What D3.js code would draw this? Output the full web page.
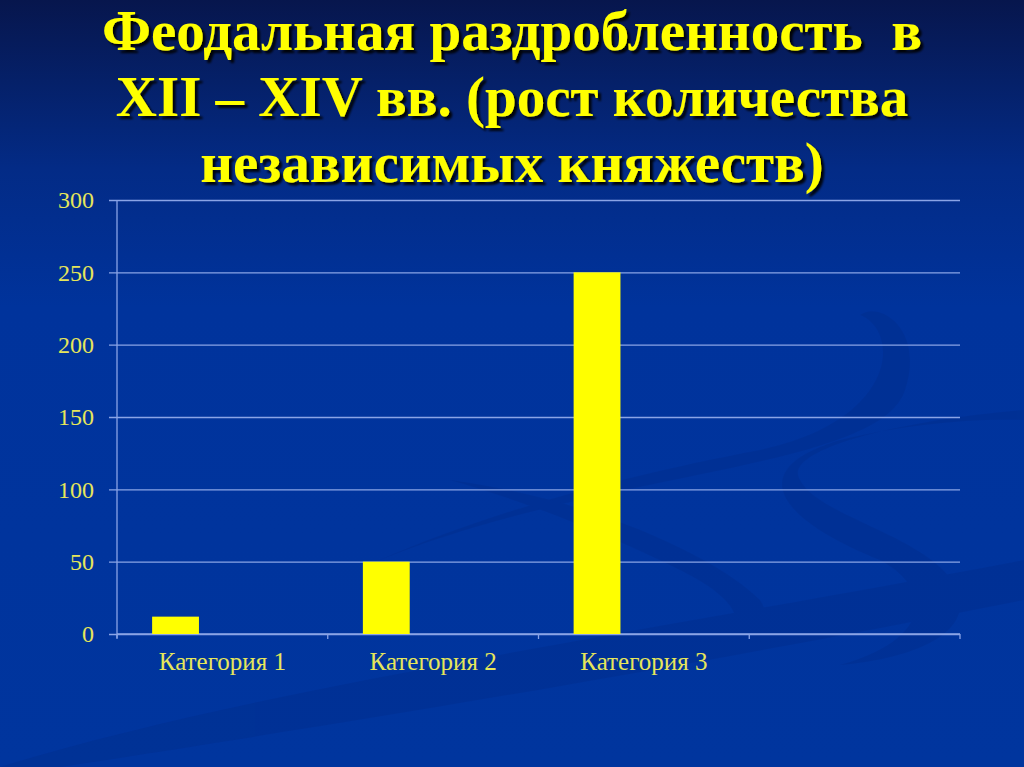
<!DOCTYPE html>
<html>
<head>
<meta charset="utf-8">
<script src="https://cdn.jsdelivr.net/npm/d3@7"></script>
<style>
  html, body { margin: 0; padding: 0; background: #00339c; }
  svg { display: block; }
</style>
</head>
<body>
<div id="chart"></div>
<script>
// заголовок слайда (три строки)
const titleLines = [
    "Феодальная раздробленность  в",
    "XII – XIV вв. (рост количества",
    "независимых княжеств)"
];

// категории по оси X (четвёртая без подписи)
const categories = ["Категория 1", "Категория 2", "Категория 3", ""];

// ряды диаграммы: заполнен только первый
const seriesNames = ["Ряд 1", "Ряд 2", "Ряд 3"];
const series1 = [12, 50, 250, null];
const series2 = [null, null, null, null];
const series3 = [null, null, null, null];

const yTicks = [0, 50, 100, 150, 200, 250, 300];

const width = 1024;
const height = 767;
const margin = { top: 200, right: 64, bottom: 133, left: 117 };

const svg = d3.select("#chart").append("svg")
    .attr("width", width)
    .attr("height", height);

// фон: градиент сверху тёмно-синий
const defs = svg.append("defs");
const grad = defs.append("linearGradient")
    .attr("id", "bg").attr("x1", 0).attr("y1", 0).attr("x2", 0).attr("y2", 1);
grad.append("stop").attr("offset", "0%").attr("stop-color", "#07164d");
grad.append("stop").attr("offset", "22%").attr("stop-color", "#032b86");
grad.append("stop").attr("offset", "40%").attr("stop-color", "#00339c");
grad.append("stop").attr("offset", "100%").attr("stop-color", "#00359e");

const shadow = defs.append("filter").attr("id", "shadow")
    .attr("x", "-5%").attr("y", "-20%").attr("width", "110%").attr("height", "140%");
shadow.append("feDropShadow")
    .attr("dx", 3).attr("dy", 3).attr("stdDeviation", 1.2)
    .attr("flood-color", "#000").attr("flood-opacity", 0.9);

svg.append("rect").attr("width", width).attr("height", height).attr("fill", "url(#bg)");

// декоративные завитки на фоне
const swirl = svg.append("g").attr("fill", "#002a85").attr("opacity", 0.3);
swirl.append("path")
    .attr("d", "M0,767 C250,690 600,640 1024,560 L1024,600 C620,680 300,730 60,767 Z");
swirl.append("path")
    .attr("d", "M380,560 C600,470 880,470 905,390 C925,330 880,300 860,315 C900,330 900,420 760,450 C600,480 470,520 380,560 Z");
swirl.append("path")
    .attr("d", "M1024,410 C900,420 780,450 800,480 C820,520 950,540 960,600 C965,640 900,660 840,665 C930,640 935,590 880,560 C780,520 740,470 840,440 C900,425 970,418 1024,420 Z");
swirl.append("path")
    .attr("d", "M450,480 C600,500 720,560 760,600 C780,630 740,650 700,660 C760,630 740,600 680,570 C600,530 520,500 450,480 Z");

// заголовок
svg.append("g")
    .attr("filter", "url(#shadow)")
    .selectAll("text")
    .data(titleLines)
    .join("text")
    .attr("x", width / 2)
    .attr("y", (d, i) => 50 + i * 66)
    .attr("text-anchor", "middle")
    .attr("font-family", "'Liberation Serif', 'Times New Roman', serif")
    .attr("font-weight", "bold")
    .attr("font-size", 57)
    .attr("fill", "#ffff00")
    .style("white-space", "pre")
    .text(d => d);

// шкалы
const x0 = d3.scaleBand()
    .domain(categories)
    .range([margin.left, width - margin.right])
    .paddingInner(0)
    .paddingOuter(0);

// внутри категории — три ряда, промежуток 150% (как в Excel)
const x1 = d3.scaleBand()
    .domain(seriesNames)
    .range([0, x0.bandwidth()])
    .paddingInner(0)
    .paddingOuter(0.75);

const y = d3.scaleLinear()
    .domain([0, 300])
    .range([height - margin.bottom, margin.top]);

const gridColor = "#8aa4e6";
const labelColor = "#e6e65a";

// сетка по оси Y
const gy = svg.append("g")
    .attr("transform", `translate(${width - margin.right},0)`)
    .call(d3.axisLeft(y).tickValues(yTicks).tickSize(width - margin.right - margin.left + 8).tickFormat(""));
gy.select(".domain").remove();
gy.selectAll(".tick line").attr("stroke", gridColor).attr("stroke-width", 1.3);

// подписи оси Y
svg.append("g")
    .selectAll("text")
    .data(yTicks)
    .join("text")
    .attr("x", 94)
    .attr("y", d => y(d))
    .attr("dy", "0.35em")
    .attr("text-anchor", "end")
    .attr("font-family", "'Liberation Serif', 'Times New Roman', serif")
    .attr("font-size", 24)
    .attr("fill", labelColor)
    .text(d => d);

// вертикальная ось
svg.append("line")
    .attr("x1", margin.left).attr("x2", margin.left)
    .attr("y1", margin.top).attr("y2", y(0) + 4)
    .attr("stroke", gridColor).attr("stroke-width", 1.3);

// ось X: линия и засечки на границах категорий
const xBounds = categories.map(c => x0(c)).concat([x0.range()[1]]);
svg.append("line")
    .attr("x1", margin.left).attr("x2", width - margin.right)
    .attr("y1", y(0)).attr("y2", y(0))
    .attr("stroke", gridColor).attr("stroke-width", 1.3);
svg.append("g")
    .selectAll("line")
    .data(xBounds)
    .join("line")
    .attr("x1", d => d).attr("x2", d => d)
    .attr("y1", y(0)).attr("y2", y(0) + 5)
    .attr("stroke", gridColor).attr("stroke-width", 1.3);

// столбцы
const seriesValues = [series1, series2, series3];
const barData = [];
seriesValues.forEach((vals, s) => {
    vals.forEach((v, i) => {
        if (v !== null) barData.push({ cat: categories[i], ser: seriesNames[s], value: v });
    });
});

svg.append("g")
    .selectAll("rect")
    .data(barData)
    .join("rect")
    .attr("x", d => x0(d.cat) + x1(d.ser))
    .attr("y", d => y(d.value))
    .attr("width", x1.bandwidth())
    .attr("height", d => y(0) - y(d.value))
    .attr("fill", "#ffff00");

// подписи категорий
svg.append("g")
    .selectAll("text")
    .data(categories)
    .join("text")
    .attr("x", d => x0(d) + x0.bandwidth() / 2)
    .attr("y", 670)
    .attr("text-anchor", "middle")
    .attr("font-family", "'Liberation Serif', 'Times New Roman', serif")
    .attr("font-size", 25)
    .attr("fill", labelColor)
    .text(d => d);
</script>
</body>
</html>
